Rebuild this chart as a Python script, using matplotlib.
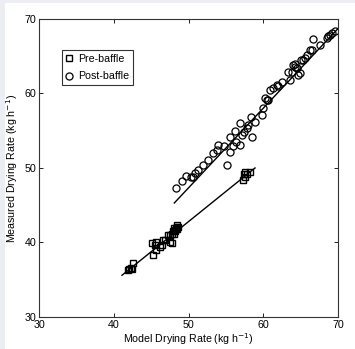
import numpy as np
import matplotlib
matplotlib.use("Agg")
import matplotlib.pyplot as plt
from matplotlib.patches import Rectangle

plt.rcParams['font.family'] = ['Liberation Sans', 'DejaVu Sans']

# --- datos: pre-baffle (cuadrados) ---
pre_x = [41.9, 42.4, 42.6, 45.3, 45.1, 45.7, 46.4, 46.9, 47.5, 47.3, 47.8, 48.2,
         48.4, 45.7, 45.5, 46.6, 47.5, 48.2, 48.6, 48.4, 46.2, 47.8, 48.0, 48.3,
         48.5, 48.1, 47.9, 42.1, 42.3,
         57.3, 57.6, 57.8, 58.2, 57.4, 57.6]
pre_y = [36.3, 36.4, 37.2, 38.3, 39.9, 40.1, 39.7, 40.3, 40.1, 41.0, 41.2, 41.7,
         42.1, 39.0, 39.7, 40.3, 41.0, 41.5, 42.1, 42.3, 39.4, 39.9, 41.2, 41.9,
         41.8, 42.0, 41.5, 36.5, 36.6,
         48.4, 48.8, 49.2, 49.5, 49.2, 49.5]

# --- datos: post-baffle (círculos) ---
post_x = [48.3, 49.1, 49.6, 50.4, 50.6, 50.9, 51.3, 52.0, 52.6, 53.3, 54.0, 54.7,
          55.1, 55.5, 55.5, 56.2, 56.4, 56.9, 56.9, 57.1, 57.8, 58.4, 58.5, 58.9,
          59.8, 60.0, 60.2, 60.5, 60.7, 60.9, 61.3, 61.8, 62.5, 63.3, 63.6, 64.0,
          64.2, 64.5, 64.6, 64.9, 65.1, 65.3, 65.8, 66.3, 66.5, 66.6, 67.6, 68.5,
          68.7, 68.9, 69.2, 69.6, 57.4, 56.0, 63.9, 64.3, 62.0, 58.0, 53.8, 65.6]
post_y = [47.3, 48.3, 48.9, 48.8, 48.8, 49.3, 49.7, 50.4, 51.1, 52.0, 53.1, 52.9,
          50.4, 54.2, 52.2, 54.9, 53.5, 56.0, 53.1, 54.4, 55.3, 56.9, 54.2, 56.2,
          57.1, 58.0, 59.4, 59.1, 59.1, 60.5, 60.7, 61.1, 61.6, 62.9, 61.8, 63.8,
          63.6, 63.4, 62.5, 62.7, 64.5, 64.5, 65.2, 65.8, 65.8, 67.3, 66.5, 67.4,
          67.7, 67.9, 68.1, 68.4, 54.8, 53.0, 62.9, 64.0, 61.0, 55.8, 52.4, 64.8]

# --- rectas de ajuste (extremos) ---
pre_fit_x = [41.1, 58.9]
pre_fit_y = [35.6, 50.0]
post_fit_x = [48.1, 70.0]
post_fit_y = [45.3, 68.7]

ticks = [30, 40, 50, 60, 70]

fig = plt.figure(figsize=(3.55, 3.49), dpi=100, facecolor='#eceef3')
fig.patches.append(Rectangle((5 / 355, 0), 1, 1 - 3 / 349, transform=fig.transFigure,
                             facecolor='white', edgecolor='none', zorder=-10))
ax = fig.add_axes([0.110, 0.0917, 0.842, 0.854])

ax.plot(pre_fit_x, pre_fit_y, color='black', lw=1.0)
ax.plot(post_fit_x, post_fit_y, color='black', lw=1.0)
ax.plot(pre_x, pre_y, 's', ms=4.0, mfc='none', mec='black', mew=1.0, label='Pre-baffle')
ax.plot(post_x, post_y, 'o', ms=5.1, mfc='none', mec='black', mew=0.9, label='Post-baffle')

ax.set_xlim(30, 70)
ax.set_ylim(30, 70)
ax.set_xticks(ticks)
ax.set_yticks(ticks)
ax.tick_params(direction='in', length=3, width=0.6, labelsize=7.7, top=True, right=True, pad=2)
for s in ax.spines.values():
    s.set_linewidth(0.8)
    s.set_color('#333333')

ax.set_xlabel('Model Drying Rate (kg h$^{-1}$)', fontsize=7.7, labelpad=1)
ax.set_ylabel('Measured Drying Rate (kg h$^{-1}$)', fontsize=7.7, labelpad=3)

leg = ax.legend(loc='upper left', bbox_to_anchor=(0.078, 0.895), fontsize=7.7,
                frameon=True, fancybox=False, edgecolor='black', handlelength=0.6,
                handletextpad=0.5, borderpad=0.35, labelspacing=0.7, borderaxespad=0)
leg.get_frame().set_linewidth(0.8)

fig.savefig('out.png', dpi=100, facecolor=fig.get_facecolor())
